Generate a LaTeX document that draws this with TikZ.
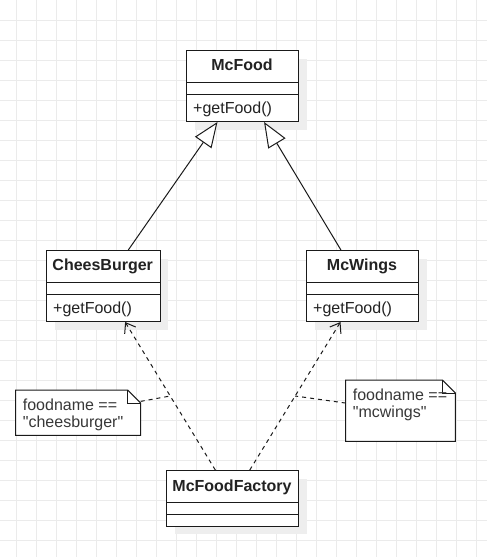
\documentclass[tikz,border=0pt]{standalone}
\usepackage{fontspec}
\setmainfont{Liberation Sans}[Ligatures=TeXOff]
\usetikzlibrary{arrows.meta,calc,shadows}
\definecolor{gridc}{HTML}{EBEBEB}
\definecolor{shadowc}{HTML}{EEEEEE}
\definecolor{inkc}{HTML}{1A1A1A}
\definecolor{textc}{HTML}{222222}
\begin{document}
\begin{tikzpicture}[x=1pt,y=-1pt,
  gridline/.style={draw=gridc, line width=1pt},
  classbox/.style={draw=inkc, line width=1pt, fill=white, rectangle, inner sep=0pt, anchor=north west,
    general shadow={fill=shadowc, shadow xshift=8pt, shadow yshift=-8pt}},
  septline/.style={draw=inkc, line width=1pt},
  classname/.style={font=\bfseries\fontsize{16}{19}\selectfont, text=textc, inner sep=0pt, anchor=base},
  method/.style={font=\fontsize{16}{19}\selectfont, text=textc, inner sep=0pt, anchor=base west},
  notebox/.style={rectangle, inner sep=0pt, anchor=north west},
  noteshape/.style={draw=inkc, line width=1pt, fill=white},
  notetext/.style={font=\fontsize{16}{19}\selectfont, text=textc!90, inner sep=0pt, anchor=base west},
  inherit/.style={draw=inkc, line width=1pt, -{Triangle[length=25pt,width=20pt,fill=white,line width=1pt]}},
  depend/.style={draw=inkc, line width=1pt, dash pattern=on 4pt off 4pt, -{Straight Barb[length=9pt,width=13pt,line width=1pt]}},
  notelink/.style={draw=inkc, line width=1pt, dash pattern=on 4pt off 4pt}
]
\useasboundingbox (0,0) rectangle (487,557);
\fill[white] (0,0) rectangle (487,557);
% grid
\foreach \i in {0,...,23} \draw[gridline] ({16.7+20*\i},0) -- ({16.7+20*\i},557);
\foreach \j in {1,...,27} \draw[gridline] (0,{20*\j}) -- (487,{20*\j});

% classes
\node[classbox, minimum width=112pt, minimum height=71pt] (mcfood) at (186,50) {};
\draw[septline] ($(mcfood.north west)+(0,32)$) -- ($(mcfood.north east)+(0,32)$);
\draw[septline] ($(mcfood.north west)+(0,44)$) -- ($(mcfood.north east)+(0,44)$);
\node[classname] (mcfoodname) at (242,70.7) {McFood};
\node[method] (mcfoodop) at (193,113.3) {+getFood()};

\node[classbox, minimum width=113.5pt, minimum height=71pt] (cb) at (46,250) {};
\draw[septline] ($(cb.north west)+(0,32)$) -- ($(cb.north east)+(0,32)$);
\draw[septline] ($(cb.north west)+(0,44)$) -- ($(cb.north east)+(0,44)$);
\node[classname] (cbname) at (102.7,270.7) {CheesBurger};
\node[method] (cbop) at (53,313.3) {+getFood()};

\node[classbox, minimum width=112pt, minimum height=71pt] (mw) at (306,250) {};
\draw[septline] ($(mw.north west)+(0,32)$) -- ($(mw.north east)+(0,32)$);
\draw[septline] ($(mw.north west)+(0,44)$) -- ($(mw.north east)+(0,44)$);
\node[classname] (mwname) at (362,270.7) {McWings};
\node[method] (mwop) at (313,313.3) {+getFood()};

\node[classbox, minimum width=132pt, minimum height=55.5pt] (fac) at (166,470) {};
\draw[septline] ($(fac.north west)+(0,32)$) -- ($(fac.north east)+(0,32)$);
\draw[septline] ($(fac.north west)+(0,44)$) -- ($(fac.north east)+(0,44)$);
\node[classname] (facname) at (232,491.3) {McFoodFactory};

% inheritance
\draw[inherit] (cb) -- (mcfood);
\draw[inherit] (mw) -- (mcfood);

% dependencies
\draw[depend] (fac) -- coordinate[pos=0.5] (m1) (cb);
\draw[depend] (fac) -- coordinate[pos=0.5] (m2) (mw);

% notes
\node[notebox, minimum width=124.6pt, minimum height=45pt] (n1) at (15.7,390) {};
\draw[noteshape] (n1.north west) -- ($(n1.north east)+(-13,0)$) -- ($(n1.north east)+(0,13)$) -- (n1.south east) -- (n1.south west) -- cycle;
\draw[noteshape, fill=none] ($(n1.north east)+(-13,0)$) -- ($(n1.north east)+(-13,13)$) -- ($(n1.north east)+(0,13)$);
\node[notetext] (n1a) at (22.7,410.7) {foodname ==};
\node[notetext] (n1b) at (22.7,427) {"cheesburger"};

\node[notebox, minimum width=109.3pt, minimum height=61pt] (n2) at (345.7,380) {};
\draw[noteshape] (n2.north west) -- ($(n2.north east)+(-13,0)$) -- ($(n2.north east)+(0,13)$) -- (n2.south east) -- (n2.south west) -- cycle;
\draw[noteshape, fill=none] ($(n2.north east)+(-13,0)$) -- ($(n2.north east)+(-13,13)$) -- ($(n2.north east)+(0,13)$);
\node[notetext] (n2a) at (352.7,400.7) {foodname ==};
\node[notetext] (n2b) at (352.7,417) {"mcwings"};

% note links
\draw[notelink] (n1) -- (m1);
\draw[notelink] (n2) -- (m2);
\end{tikzpicture}
\end{document}
